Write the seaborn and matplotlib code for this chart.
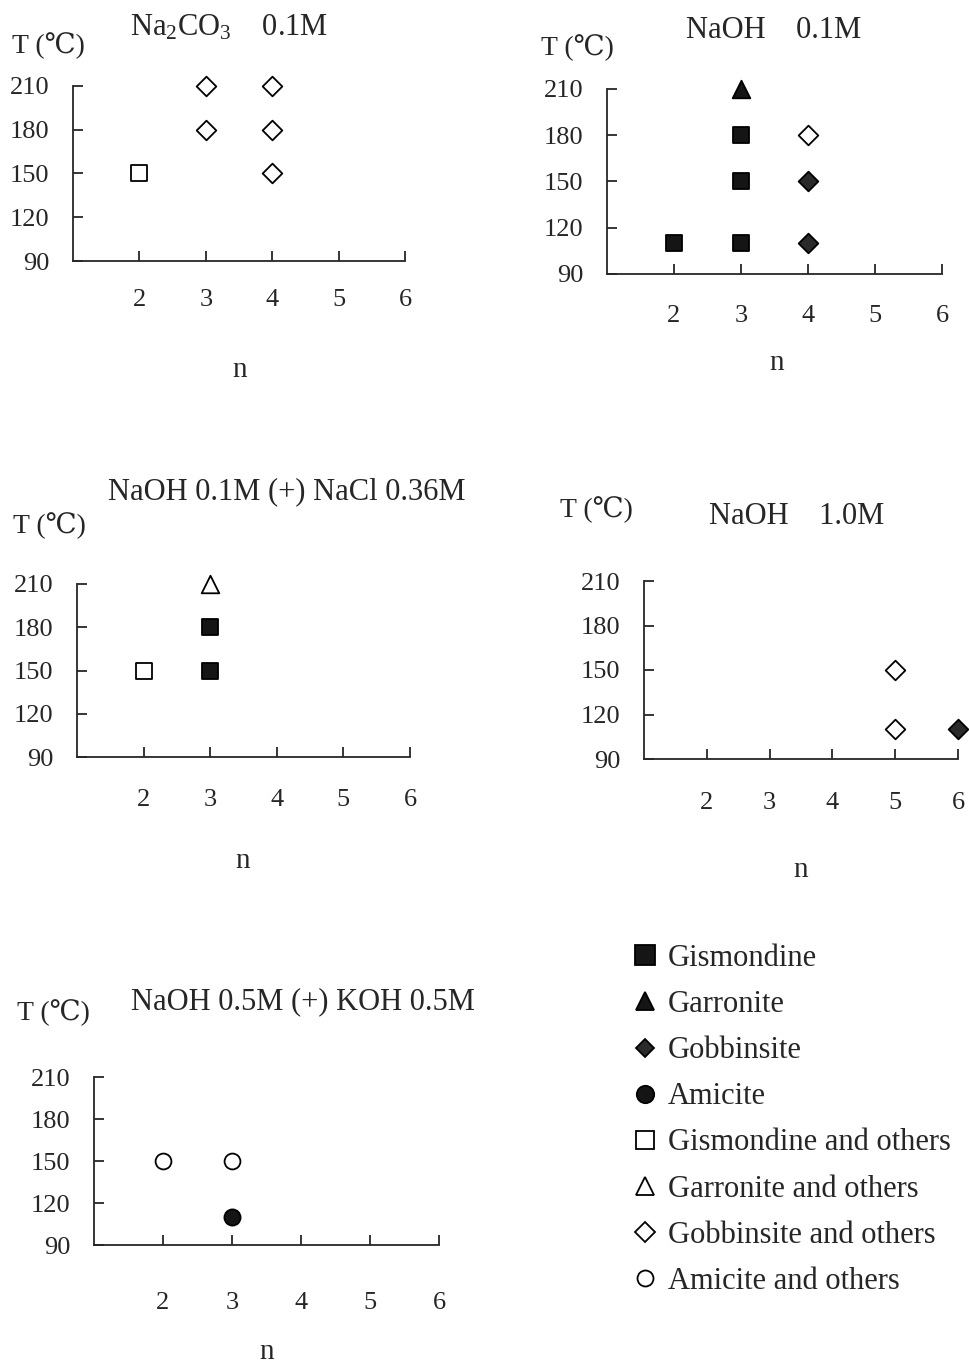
import pandas as pd
import seaborn as sns
import matplotlib.pyplot as plt
from matplotlib.lines import Line2D

# Phase names and how each one is drawn
phases = ['Gismondine', 'Garronite', 'Gobbinsite', 'Amicite',
          'Gismondine and others', 'Garronite and others',
          'Gobbinsite and others', 'Amicite and others']
phase_marker = ['s', '^', 'D', 'o', 's', '^', 'D', 'o']
phase_face = ['#151515', '#151515', '#2a2a2a', '#151515',
              'white', 'white', 'white', 'white']
phase_size = [130, 160, 100, 135, 130, 160, 100, 130]
legend_ms = [14, 13, 9.5, 12.5, 13, 12.5, 10, 11.5]

titles = ['Na$_2$CO$_3$    0.1M', 'NaOH    0.1M', 'NaOH 0.1M (+) NaCl 0.36M',
          'NaOH    1.0M', 'NaOH 0.5M (+) KOH 0.5M']

x_ticks = [2, 3, 4, 5, 6]
y_ticks = [90, 120, 150, 180, 210]

# Na2CO3 0.1M
p1_n = [2, 3, 3, 4, 4, 4]
p1_T = [150, 210, 180, 210, 180, 150]
p1_phase = ['Gismondine and others'] + ['Gobbinsite and others'] * 5

# NaOH 0.1M
p2_n = [2, 3, 3, 3, 3, 4, 4, 4]
p2_T = [110, 110, 150, 180, 210, 180, 150, 110]
p2_phase = ['Gismondine'] * 4 + ['Garronite', 'Gobbinsite and others',
                                 'Gobbinsite', 'Gobbinsite']

# NaOH 0.1M + NaCl 0.36M
p3_n = [2, 3, 3, 3]
p3_T = [150, 150, 180, 210]
p3_phase = ['Gismondine and others', 'Gismondine', 'Gismondine',
            'Garronite and others']

# NaOH 1.0M
p4_n = [5, 5, 6]
p4_T = [150, 110, 110]
p4_phase = ['Gobbinsite and others', 'Gobbinsite and others', 'Gobbinsite']

# NaOH 0.5M + KOH 0.5M
p5_n = [2, 3, 3]
p5_T = [150, 150, 110]
p5_phase = ['Amicite and others', 'Amicite and others', 'Amicite']

panels = [(p1_n, p1_T, p1_phase), (p2_n, p2_T, p2_phase),
          (p3_n, p3_T, p3_phase), (p4_n, p4_T, p4_phase),
          (p5_n, p5_T, p5_phase)]

rows = []
for i, (ns, ts, ps) in enumerate(panels):
    for n, t, p in zip(ns, ts, ps):
        rows.append({'panel': i, 'n': n, 'T': t, 'phase': p})
df = pd.DataFrame(rows)

# Layout in pixels: axes box (left, top, right, bottom), x tick pad,
# title centre/baseline, T label centre/baseline, n label centre/baseline
W, H = 970, 1363
boxes = [(73, 86, 405, 261), (607, 89, 942, 274), (77, 584, 410, 757),
         (644, 581, 958, 759), (94, 1077, 439, 1245)]
xpads = [20, 22, 23, 24, 34]
title_pos = [(229, 36), (774, 38), (287, 499), (797, 524), (303, 1009)]
tlab_pos = [(48, 53), (577, 55), (49, 533), (596, 517), (53, 1020)]
nlab_pos = [(240, 377), (777, 370), (243, 868), (801, 877), (267, 1359)]

sns.set_style('ticks')
plt.rcParams['font.family'] = ['Liberation Serif', 'DejaVu Serif']
plt.rcParams['mathtext.default'] = 'regular'

fig = plt.figure(figsize=(W / 100, H / 100), dpi=100)

for i in range(5):
    l, t, r, b = boxes[i]
    ax = fig.add_axes([l / W, 1 - b / H, (r - l) / W, (b - t) / H])
    sub = df[df['panel'] == i]
    for k, ph in enumerate(phases):
        pts = sub[sub['phase'] == ph]
        if len(pts) == 0:
            continue
        sns.scatterplot(data=pts, x='n', y='T', marker=phase_marker[k],
                        s=phase_size[k], color=phase_face[k],
                        edgecolor='black', linewidth=1.3, ax=ax,
                        clip_on=False, zorder=3, legend=False)
    ax.set_xlim(1, 6)
    ax.set_ylim(90, 210)
    ax.set_xticks(x_ticks)
    ax.set_yticks(y_ticks)
    ax.set_xlabel('')
    ax.set_ylabel('')
    sns.despine(ax=ax)
    for sp in ['left', 'bottom']:
        ax.spines[sp].set_linewidth(1.3)
    ax.tick_params(axis='both', direction='in', length=7, width=1.3,
                   labelsize=19)
    ax.tick_params(axis='x', pad=xpads[i])
    ax.tick_params(axis='y', pad=17)

    fig.text(title_pos[i][0] / W, 1 - title_pos[i][1] / H, titles[i],
             ha='center', va='baseline', fontsize=22)
    fig.text(tlab_pos[i][0] / W, 1 - tlab_pos[i][1] / H, 'T (℃)',
             ha='center', va='baseline', fontsize=20)
    fig.text(nlab_pos[i][0] / W, 1 - nlab_pos[i][1] / H, 'n',
             ha='center', va='baseline', fontsize=21)

# Legend of phases
handles = [Line2D([], [], linestyle='none', marker=phase_marker[k],
                  markersize=legend_ms[k], markerfacecolor=phase_face[k],
                  markeredgecolor='black', markeredgewidth=1.3)
           for k in range(len(phases))]
fig.legend(handles, phases, loc='upper left',
           bbox_to_anchor=(630 / W, 1 - 944 / H), frameon=False,
           fontsize=22, handlelength=1.0, handletextpad=0.25,
           labelspacing=0.56, borderpad=0, borderaxespad=0)

fig.savefig('out.png', dpi=100, facecolor='white')
